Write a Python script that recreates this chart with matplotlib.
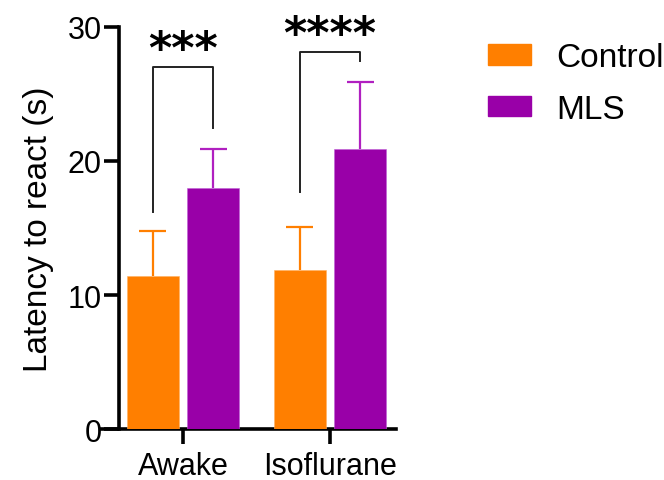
import numpy as np
import matplotlib.pyplot as plt

plt.rcParams['font.family'] = ['Liberation Sans', 'DejaVu Sans']

# data
groups = ['Awake', 'Isoflurane']
series = ['Control', 'MLS']
control_mean = np.array([11.4, 11.9])
control_err = np.array([3.4, 3.2])
mls_mean = np.array([18.0, 20.9])
mls_err = np.array([2.9, 5.0])
sig_labels = ['***', '****']
# bracket: top, left leg bottom, right leg bottom
bracket_top = [27.0, 28.1]
bracket_left = [16.2, 17.7]
bracket_right = [22.5, 27.5]

orange = '#FF7F00'
purple = '#9900A8'
purple_err = '#B020C0'

fig = plt.figure(figsize=(6.64, 4.81), dpi=100)
ax = fig.add_axes([101 / 664, 1 - 430 / 481, 295 / 664, 402 / 481])

centers = np.array([0.0, 2.83])
off = 0.58
width = 1.0
cap = 0.26

# upper-only error bars (no cap at the bar top)
for xs, mean, err, col in [(centers - off, control_mean, control_err, orange),
                           (centers + off, mls_mean, mls_err, purple_err)]:
    ax.vlines(xs, mean, mean + err, color=col, lw=1.6, zorder=1)
    ax.hlines(mean + err, xs - cap, xs + cap, color=col, lw=1.6, zorder=1)

ax.bar(centers - off, control_mean, width, color=orange, edgecolor='#FFB060', linewidth=0.4, zorder=3)
ax.bar(centers + off, mls_mean, width, color=purple, edgecolor='#C060D8', linewidth=0.4, zorder=3)

for i, c in enumerate(centers):
    xl, xr = c - off, c + off
    ax.plot([xl, xl, xr, xr], [bracket_left[i], bracket_top[i], bracket_top[i], bracket_right[i]],
            color='#222222', lw=1.4, clip_on=False)
    ax.text(c, bracket_top[i] - 0.3, sig_labels[i], ha='center', va='bottom',
            fontsize=32, fontweight='bold', family='DejaVu Sans', clip_on=False)

ax.set_xlim(-1.58, 4.1)
ax.set_ylim(0, 30)
ax.set_yticks([0, 10, 20, 30])
ax.set_xticks(centers)
ax.set_xticklabels(groups)
ax.spines['left'].set_position(('data', -1.23))
ax.spines['top'].set_visible(False)
ax.spines['right'].set_visible(False)
for s in ['left', 'bottom']:
    ax.spines[s].set_linewidth(2.6)
ax.tick_params(axis='both', width=2.6, length=11, labelsize=22, pad=1.5)
ax.tick_params(axis='x', pad=4.5)
ax.set_ylabel('Latency to react (s)', fontsize=24, labelpad=10)

handles = [plt.Rectangle((0, 0), 1, 1, color=orange), plt.Rectangle((0, 0), 1, 1, color=purple)]
fig.legend(handles, series, loc='upper left', bbox_to_anchor=(458 / 664, 1 - 13 / 481),
           frameon=False, fontsize=24, handlelength=1.3, handleheight=0.58,
           labelspacing=0.62, handletextpad=0.75)

fig.savefig('out.png', dpi=100)
